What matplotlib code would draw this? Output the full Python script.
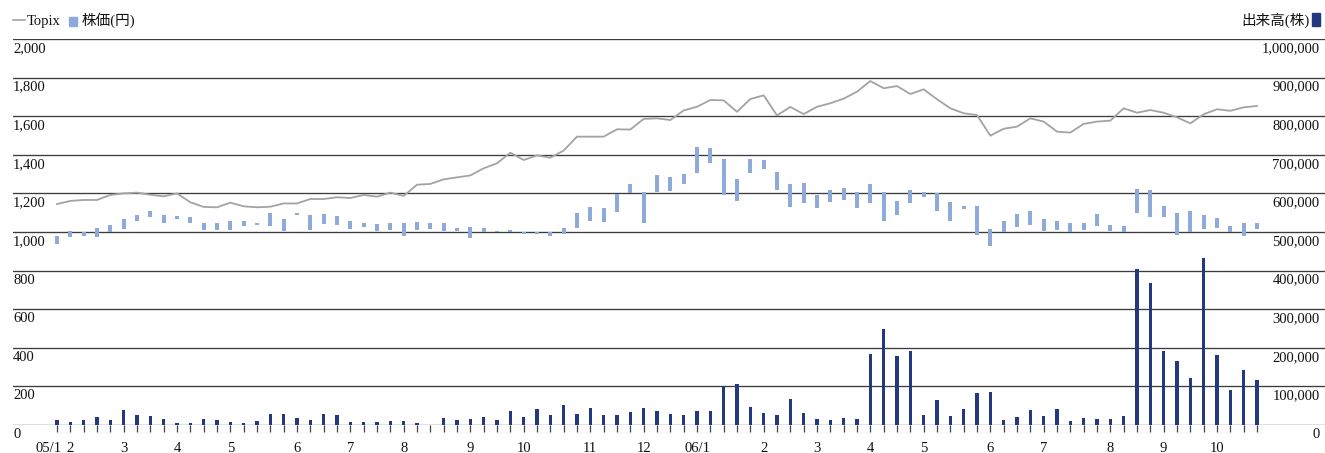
import matplotlib
matplotlib.use("Agg")
import matplotlib.pyplot as plt
import matplotlib.transforms as mtransforms
from matplotlib.lines import Line2D
from matplotlib.patches import Rectangle

plt.rcParams['font.family'] = ['Liberation Serif', 'Noto Sans CJK JP']

# weekly data, 2005/1 - 2006/10
topix = [1145, 1161, 1166, 1166, 1192, 1200, 1204, 1193, 1185, 1200,
         1154, 1130, 1128, 1152, 1133, 1128, 1131, 1148, 1148, 1171,
         1171, 1180, 1176, 1192, 1183, 1204, 1187, 1245, 1249, 1273,
         1283, 1293, 1330, 1356, 1411, 1373, 1397, 1385, 1422, 1494,
         1494, 1494, 1532, 1531, 1586, 1589, 1580, 1630, 1649, 1684,
         1682, 1623, 1689, 1708, 1604, 1648, 1611, 1649, 1667, 1691,
         1727, 1782, 1745, 1756, 1715, 1739, 1688, 1641, 1615, 1606,
         1499, 1535, 1546, 1589, 1572, 1520, 1515, 1560, 1572, 1577,
         1641, 1618, 1632, 1618, 1594, 1563, 1610, 1636, 1628, 1646,
         1653]

price_high = [981, 1007, 998, 1019, 1035, 1067, 1088, 1107, 1090, 1085,
              1078, 1048, 1048, 1059, 1059, 1048, 1097, 1067, 1098, 1088,
              1095, 1085, 1059, 1045, 1040, 1048, 1045, 1053, 1048, 1045,
              1022, 1024, 1019, 1007, 1012, 1002, 998, 1002, 1022, 1097,
              1131, 1123, 1195, 1247, 1209, 1297, 1287, 1299, 1439, 1435,
              1377, 1275, 1378, 1371, 1312, 1247, 1255, 1192, 1218, 1228,
              1209, 1250, 1206, 1162, 1218, 1209, 1202, 1154, 1136, 1136,
              1016, 1057, 1093, 1109, 1067, 1059, 1048, 1048, 1093, 1036,
              1031, 1223, 1218, 1135, 1100, 1107, 1088, 1074, 1031, 1048,
              1048]

price_low = [938, 976, 981, 973, 998, 1014, 1059, 1078, 1048, 1067,
             1048, 1009, 1009, 1009, 1033, 1038, 1031, 1003, 1086, 1010,
             1040, 1038, 1017, 1028, 1003, 1009, 981, 1009, 1017, 1003,
             1003, 970, 998, 998, 998, 988, 988, 981, 990, 1022,
             1057, 1053, 1105, 1200, 1048, 1209, 1214, 1250, 1304, 1359,
             1190, 1159, 1304, 1328, 1219, 1130, 1149, 1126, 1154, 1167,
             1123, 1149, 1059, 1088, 1149, 1180, 1110, 1059, 1119, 984,
             929, 998, 1024, 1038, 1007, 1010, 998, 1010, 1033, 1003,
             1002, 1097, 1079, 1079, 984, 998, 1014, 1021, 1002, 981,
             1016]

volume = [12000, 8500, 13000, 21500, 14000, 40000, 26000, 23000, 14500, 6000,
          5000, 15500, 14000, 8500, 4500, 10500, 29500, 27500, 18000, 12000,
          29500, 27000, 6500, 6500, 6500, 9500, 9500, 4500, 1000, 18000,
          14000, 15500, 21000, 12500, 37500, 21000, 42500, 27000, 52000, 28500,
          44500, 27000, 26500, 34000, 45000, 36500, 27500, 26000, 36500, 36500,
          102000, 106000, 47500, 32000, 25000, 66500, 32000, 14500, 13000, 17500,
          15500, 184000, 250000, 179000, 192000, 27000, 65000, 22500, 42500, 83000,
          86500, 14000, 20000, 40000, 24000, 40500, 10500, 19000, 15500, 16500,
          22500, 403000, 369000, 193000, 165000, 121000, 433000, 181000, 91500, 141500,
          116500]

month_pos = [0, 1, 5, 9, 13, 18, 22, 26, 31, 35, 40, 44,
             48, 53, 57, 61, 65, 70, 74, 79, 83, 87]
month_labels = ['05/1', '2', '3', '4', '5', '6', '7', '8', '9', '10', '11', '12',
                '06/1', '2', '3', '4', '5', '6', '7', '8', '9', '10']

price_ticks = list(range(0, 2001, 200))
volume_ticks = list(range(0, 1000001, 100000))

W, H = 1325, 453
fig = plt.figure(figsize=(W / 100, H / 100), dpi=100)
ax = fig.add_axes([13 / W, 1 - 425 / H, 1 - 13 / W, 386 / H])
ax2 = ax.twinx()

x = list(range(len(topix)))
ax.set_xlim(-3.3, 95.1)
ax.set_ylim(0, 2000)
ax2.set_ylim(0, 1000000)

for a in (ax, ax2):
    for s in a.spines.values():
        s.set_visible(False)
    a.set_yticks([])

# grid
for v in price_ticks:
    ax.axhline(v, color='#3c3c3c', lw=0.95, zorder=1)

# price range bars
heights = [h - l for h, l in zip(price_high, price_low)]
ax.bar(x, heights, bottom=price_low, width=0.28, color='#8eaadb', zorder=2)
# topix line
ax.plot(x, topix, color='#a3a3a3', lw=1.3, zorder=3)
# volume bars
ax2.bar(x, volume, width=0.25, color='#22387f', zorder=2)

# x ticks
ax.set_xticks(x)
ax.set_xticklabels([])
ax.tick_params(axis='x', direction='out', length=5, width=0.9, color='#404040')

# y labels, drawn just under each grid line
fs = 10.5
left_tr = mtransforms.offset_copy(
    mtransforms.blended_transform_factory(ax.transAxes, ax.transData),
    fig=fig, x=0, y=-13, units='dots')
for v in price_ticks:
    ax.text(0, v, f'{v:,}', transform=left_tr, ha='left', va='baseline',
            fontsize=fs, color='#111111')
right_tr = mtransforms.offset_copy(
    mtransforms.blended_transform_factory(ax2.transAxes, ax2.transData),
    fig=fig, x=-5.5, y=-13, units='dots')
for v in volume_ticks:
    ax2.text(1, v, f'{v:,}', transform=right_tr, ha='right', va='baseline',
             fontsize=fs, color='#111111')

# month labels
xl_tr = mtransforms.offset_copy(
    mtransforms.blended_transform_factory(ax.transData, ax.transAxes),
    fig=fig, x=0, y=-26.5, units='dots')
xl_tr0 = mtransforms.offset_copy(
    mtransforms.blended_transform_factory(ax.transData, ax.transAxes),
    fig=fig, x=5, y=-26.5, units='dots')
for p, lab in zip(month_pos, month_labels):
    if p == 0:
        ax.text(p, 0, lab, transform=xl_tr0, ha='right', va='baseline',
                fontsize=fs, color='#111111')
    else:
        ax.text(p, 0, lab, transform=xl_tr, ha='center', va='baseline',
                fontsize=fs, color='#111111')

# legend (pixel positions from the top-left corner)
def fx(px):
    return px / W

def fy(py):
    return 1 - py / H

fig.add_artist(Line2D([fx(13), fx(25)], [fy(20), fy(20)], color='#a3a3a3',
                      lw=1.2, transform=fig.transFigure))
fig.text(fx(27), fy(25), 'Topix', fontsize=fs, va='baseline', ha='left',
         color='#111111')
fig.add_artist(Rectangle((fx(69), fy(26)), fx(8), 9 / H, color='#8eaadb',
                         transform=fig.transFigure))
fig.text(fx(82), fy(25), '株価(円)', fontsize=10.5, va='baseline', ha='left',
         color='#111111')
fig.text(fx(1310), fy(25), '出来高(株)', fontsize=10.5, va='baseline', ha='right',
         color='#111111')
fig.add_artist(Rectangle((fx(1311.5), fy(26)), fx(8), 13 / H, color='#22387f',
                         transform=fig.transFigure))

fig.savefig('out.png', dpi=100)
